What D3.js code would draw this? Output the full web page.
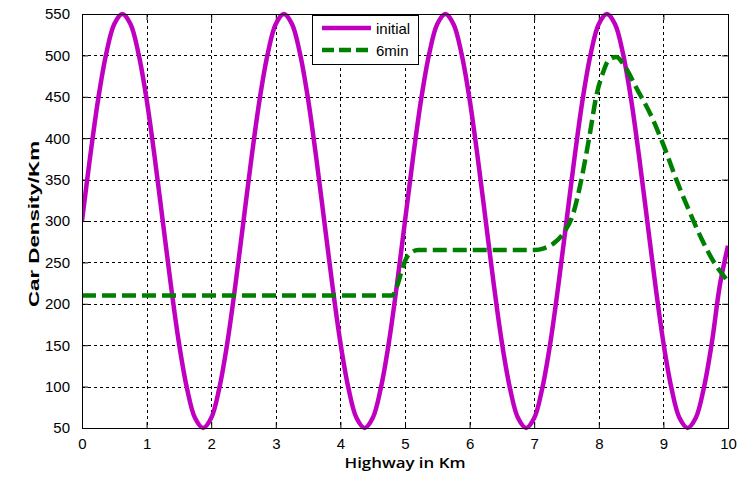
<!DOCTYPE html>
<head>
  <meta charset="utf-8">
  <style>
    body { margin: 0; background: #fff; }
    svg { display: block; }
  </style>
</head>
<body>
  <div id="chart"></div>
  <script src="https://d3js.org/d3.v7.min.js"></script>
  <script>
    var initialX = [0, 0.125, 0.25, 0.375, 0.5, 0.625, 0.75, 0.875, 1, 1.125, 1.25, 1.375, 1.5, 1.625, 1.75, 1.875, 2, 2.125, 2.25, 2.375,
      2.5, 2.625, 2.75, 2.875, 3, 3.125, 3.25, 3.375, 3.5, 3.625, 3.75, 3.875, 4, 4.125, 4.25, 4.375, 4.5, 4.625, 4.75, 4.875,
      5, 5.125, 5.25, 5.375, 5.5, 5.625, 5.75, 5.875, 6, 6.125, 6.25, 6.375, 6.5, 6.625, 6.75, 6.875, 7, 7.125, 7.25, 7.375,
      7.5, 7.625, 7.75, 7.875, 8, 8.125, 8.25, 8.375, 8.5, 8.625, 8.75, 8.875, 9, 9.125, 9.25, 9.375, 9.5, 9.625, 9.75, 9.875, 10]
    var initialY = [300, 377, 447, 502, 538, 550, 538, 502, 447, 377, 300, 223, 153, 98, 62, 50, 62, 98, 153, 223,
      300, 377, 447, 502, 538, 550, 538, 502, 447, 377, 300, 223, 153, 98, 62, 50, 62, 98, 153, 223,
      300, 377, 447, 502, 538, 550, 538, 502, 447, 377, 300, 223, 153, 98, 62, 50, 62, 98, 153, 223,
      300, 377, 447, 502, 538, 550, 538, 502, 447, 377, 300, 223, 153, 98, 62, 50, 62, 98, 153, 223, 270]

    var sixMinX = [0, 4.8, 4.88, 4.95, 5.02, 5.1, 5.2, 7.0, 7.15, 7.3, 7.45, 7.6, 7.73, 7.85, 7.97, 8.06, 8.15, 8.27, 8.4, 8.6,
      8.8, 9.0, 9.2, 9.4, 9.6, 9.8, 9.97]
    var sixMinY = [210, 210, 222, 240, 255, 262, 265, 265, 267, 273, 285, 308, 350, 400, 454, 478, 494, 498, 487, 458,
      429, 392, 350, 312, 277, 248, 230]

    var xTicks = [0, 1, 2, 3, 4, 5, 6, 7, 8, 9, 10]
    var yTicks = [50, 100, 150, 200, 250, 300, 350, 400, 450, 500, 550]
    var seriesNames = ["initial", "6min"]

    var width = 745, height = 483
    var margin = {left: 82, right: 17, top: 14, bottom: 55}
    var magenta = "#c000c0", green = "#008000"

    var svg = d3.select("#chart").append("svg")
      .attr("width", width)
      .attr("height", height)

    svg.append("rect").attr("width", width).attr("height", height).attr("fill", "#fff")

    var x = d3.scaleLinear().domain([0, 10]).range([margin.left, width - margin.right])
    var y = d3.scaleLinear().domain([50, 550]).range([height - margin.bottom, margin.top])

    var x0 = x.range()[0], x1 = x.range()[1], y0 = y.range()[0], y1 = y.range()[1]

    // grid
    var grid = svg.append("g")
      .attr("stroke", "#000")
      .attr("stroke-width", 1)
      .attr("stroke-dasharray", "3,3")
      .attr("shape-rendering", "crispEdges")
    grid.selectAll(".gx").data(xTicks.slice(1, -1)).enter().append("line")
      .attr("x1", d => Math.round(x(d)) + 0.5).attr("x2", d => Math.round(x(d)) + 0.5)
      .attr("y1", y1).attr("y2", y0)
    grid.selectAll(".gy").data(yTicks.slice(1, -1)).enter().append("line")
      .attr("y1", d => Math.round(y(d)) + 0.5).attr("y2", d => Math.round(y(d)) + 0.5)
      .attr("x1", x0).attr("x2", x1)

    // axes, ticks inward on all four sides
    var bottomAxis = d3.axisBottom(x).tickValues(xTicks).tickSizeInner(-6).tickSizeOuter(0).tickPadding(10)
    var leftAxis = d3.axisLeft(y).tickValues(yTicks).tickSizeInner(-6).tickSizeOuter(0).tickPadding(12)
    var topAxis = d3.axisTop(x).tickValues(xTicks).tickSizeInner(-6).tickSizeOuter(0).tickFormat("")
    var rightAxis = d3.axisRight(y).tickValues(yTicks).tickSizeInner(-6).tickSizeOuter(0).tickFormat("")

    function styleAxis(g) {
      g.selectAll("path").remove()
      g.selectAll("line").attr("stroke", "#000")
      g.selectAll("text")
        .attr("fill", "#000")
        .style("font-family", "'Liberation Sans', Arial, sans-serif")
        .style("font-size", "15px")
    }

    svg.append("g").attr("transform", "translate(0," + y0 + ")").call(bottomAxis).call(styleAxis)
    svg.append("g").attr("transform", "translate(" + x0 + ",0)").call(leftAxis).call(styleAxis)
    svg.append("g").attr("transform", "translate(0," + y1 + ")").call(topAxis).call(styleAxis)
    svg.append("g").attr("transform", "translate(" + x1 + ",0)").call(rightAxis).call(styleAxis)

    // clip for the data lines
    svg.append("clipPath").attr("id", "plotclip")
      .append("rect").attr("x", x0).attr("y", y1 - 4).attr("width", x1 - x0).attr("height", y0 - y1 + 8)

    var initialData = initialX.map((d, i) => [d, initialY[i]])
    var sixMinData = sixMinX.map((d, i) => [d, sixMinY[i]])

    var lineInitial = d3.line()
      .x(d => x(d[0])).y(d => y(d[1]))
      .curve(d3.curveCatmullRom)
    var lineSix = d3.line()
      .x(d => x(d[0])).y(d => y(d[1]))
      .curve(d3.curveMonotoneX)

    var plot = svg.append("g").attr("clip-path", "url(#plotclip)")
    plot.append("path").datum(initialData)
      .attr("d", lineInitial)
      .attr("fill", "none")
      .attr("stroke", magenta)
      .attr("stroke-width", 4.5)
    plot.append("path").datum(sixMinData)
      .attr("d", lineSix)
      .attr("fill", "none")
      .attr("stroke", green)
      .attr("stroke-width", 4.5)
      .attr("stroke-dasharray", "14,6")

    // plot box
    svg.append("rect")
      .attr("x", x0 + 0.5).attr("y", y1 + 0.5)
      .attr("width", x1 - x0).attr("height", y0 - y1)
      .attr("fill", "none").attr("stroke", "#000").attr("stroke-width", 1.2)
      .attr("shape-rendering", "crispEdges")

    // legend
    var legend = svg.append("g").attr("transform", "translate(312,15)")
    legend.append("rect")
      .attr("x", 0.5).attr("y", 0.5).attr("width", 106).attr("height", 49)
      .attr("fill", "#fff").attr("stroke", "#000").attr("shape-rendering", "crispEdges")
    var legendItems = legend.selectAll(".item").data(seriesNames).enter().append("g")
      .attr("transform", (d, i) => "translate(0," + (13 + i * 22) + ")")
    legendItems.append("line")
      .attr("x1", 10).attr("x2", 59).attr("y1", 0).attr("y2", 0)
      .attr("stroke", (d, i) => i == 0 ? magenta : green)
      .attr("stroke-width", 4.5)
      .attr("stroke-dasharray", (d, i) => i == 0 ? null : "12,5")
    legendItems.append("text")
      .attr("x", 64).attr("y", 6)
      .style("font-family", "'Liberation Sans', Arial, sans-serif")
      .style("font-size", "15px")
      .text(d => d)

    // axis titles
    svg.append("text")
      .attr("x", (x0 + x1) / 2).attr("y", 468)
      .attr("text-anchor", "middle")
      .attr("textLength", 121).attr("lengthAdjust", "spacingAndGlyphs")
      .style("font-family", "'Open Sans', 'Noto Sans', sans-serif")
      .style("font-weight", "600")
      .style("font-size", "15px")
      .text("Highway in Km")

    svg.append("text")
      .attr("transform", "translate(39,224) rotate(-90)")
      .attr("text-anchor", "middle")
      .attr("textLength", 166).attr("lengthAdjust", "spacingAndGlyphs")
      .style("font-family", "'Liberation Sans', Arial, sans-serif")
      .style("font-weight", "bold")
      .style("font-size", "14px")
      .text("Car Density/Km")
  </script>
</body>
